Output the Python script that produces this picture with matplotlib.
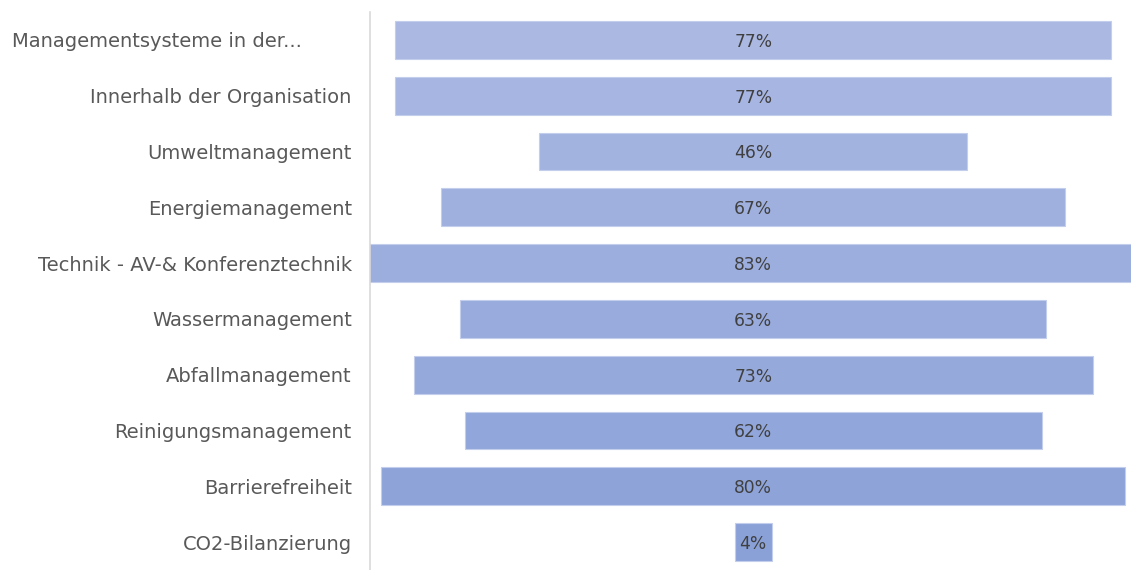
import numpy as np
import matplotlib.pyplot as plt
from matplotlib.colors import to_rgb
from matplotlib.transforms import ScaledTranslation

# funnel data (share in %)
categories = [
    "Managementsysteme in der...",
    "Innerhalb der Organisation",
    "Umweltmanagement",
    "Energiemanagement",
    "Technik - AV-& Konferenztechnik",
    "Wassermanagement",
    "Abfallmanagement",
    "Reinigungsmanagement",
    "Barrierefreiheit",
    "CO2-Bilanzierung",
]
values = [77, 77, 46, 67, 83, 63, 73, 62, 80, 4]
value_labels = ["77%", "77%", "46%", "67%", "83%", "63%", "73%", "62%", "80%", "4%"]

plt.rcParams['font.family'] = ['DejaVu Sans']

fig = plt.figure(figsize=(11.31, 5.70), dpi=100)
ax = fig.add_axes([0.327, 0.0, 0.673, 0.979])

# colours fade from light (top) to a bit darker (bottom)
top_c = np.array(to_rgb("#aab8e2"))
bot_c = np.array(to_rgb("#8aa1d8"))
n = len(values)
colors = [tuple(top_c + (bot_c - top_c) * i / (n - 1)) for i in range(n)]

y = np.arange(n)
vals = np.array(values, dtype=float)
ax.barh(y, vals, left=-vals / 2, height=0.68, color=colors,
        edgecolor="#c3cdec", linewidth=0.8)

for yi, lab in zip(y, value_labels):
    ax.text(0, yi, lab, ha="center", va="center_baseline", fontsize=12.3, color="#404040")

ax.set_xlim(-41.2, 40.6)
ax.set_ylim(n - 0.5, -0.5)
ax.set_yticks(y)
ax.set_yticklabels(categories, fontsize=14, color="#595959")
ax.tick_params(axis="y", length=0, pad=13)
for t in ax.get_yticklabels():
    t.set_verticalalignment("center_baseline")
# the truncated first label sits further left in the original
first = ax.get_yticklabels()[0]
first.set_transform(first.get_transform() + ScaledTranslation(-0.5, 0, fig.dpi_scale_trans))
ax.set_xticks([])

for spine in ["top", "right", "bottom"]:
    ax.spines[spine].set_visible(False)
ax.spines["left"].set_color("#d9d9d9")
ax.spines["left"].set_linewidth(1.2)

fig.savefig("out.png", dpi=100)
